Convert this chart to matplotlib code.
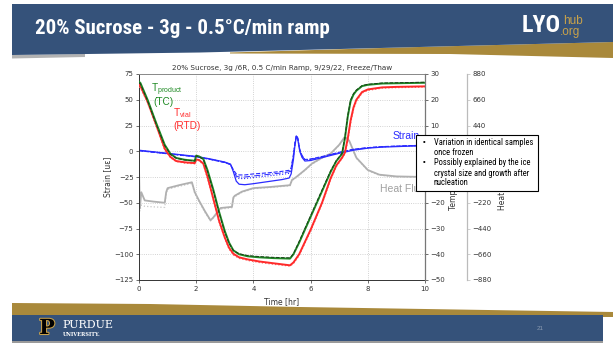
import matplotlib
matplotlib.use('Agg')
import matplotlib.pyplot as plt
from matplotlib import font_manager
from matplotlib.patches import Rectangle, Polygon
import matplotlib.patheffects as pe

names = {f.name for f in font_manager.fontManager.ttflist}


def pick(cands, default='DejaVu Sans'):
    for c in cands:
        if c in names:
            return c
    return default


NARROW = pick(['Roboto Condensed', 'Open Sans Condensed', 'Liberation Sans Narrow', 'DejaVu Sans Condensed',
               'Noto Sans Condensed', 'Roboto'])
SANS = pick(['Liberation Sans'])
BOXF = pick(['Roboto Condensed', 'Liberation Sans Narrow', 'Roboto'])
plt.rcParams['mathtext.fontset'] = 'custom'
plt.rcParams['mathtext.rm'] = SANS

# ---------------- data ----------------
slide_title = '20% Sucrose - 3g - 0.5°C/min ramp'
chart_title = '20% Sucrose, 3g /6R, 0.5 C/min Ramp, 9/29/22, Freeze/Thaw'

t_temp = [0, 0.05, 0.3, 0.6, 0.9, 1.1, 1.3, 1.6, 1.95, 2.0, 2.1, 2.25, 2.4, 2.6, 2.8,
          3.0, 3.15, 3.3, 3.5, 3.8, 4.2, 4.7, 5.28, 5.4, 5.6, 6.0, 6.4, 6.7, 6.9, 7.1,
          7.2, 7.3, 7.4, 7.5, 7.6, 7.8, 8.0, 8.5, 9.0, 10.0]
T_product_1 = [27.0, 26.5, 20.0, 11.0, 2.5, -1.0, -2.6, -3.3, -3.7, -1.7, -2.0, -3.0, -7.5, -15.0, -23.5,
               -31.0, -35.5, -38.5, -40.0, -40.8, -41.2, -41.5, -41.7, -40.0, -35.5, -25.5, -15.5, -8.0, -3.8, -1.0,
               5.0, 13.5, 19.5, 22.0, 23.5, 25.3, 25.8, 26.3, 26.4, 26.6]
T_product_2 = [26.6, 26.2, 19.6, 10.6, 2.2, -1.2, -2.7, -3.4, -3.8, -1.8, -2.1, -3.2, -8.0, -15.5, -24.0,
               -31.5, -35.8, -38.6, -39.8, -40.5, -40.9, -41.2, -41.4, -39.8, -35.0, -25.0, -15.0, -7.6, -3.6, -0.8,
               5.5, 14.0, 20.0, 22.4, 23.8, 25.5, 26.0, 26.5, 26.6, 26.8]
T_vial_1 = [25.8, 25.3, 19.3, 10.3, 1.0, -2.2, -3.8, -4.3, -4.6, -3.2, -3.4, -4.8, -10.0, -18.5, -27.0,
            -33.5, -37.5, -39.8, -41.2, -42.0, -42.8, -43.5, -44.3, -43.2, -40.0, -30.5, -20.0, -10.5, -5.5, -2.5,
            -0.5, 5.0, 12.0, 17.0, 20.0, 23.0, 24.0, 24.8, 25.0, 25.2]
T_vial_2 = [25.0, 24.6, 18.8, 9.8, 0.5, -2.5, -4.0, -4.6, -4.9, -3.5, -3.7, -5.2, -10.8, -19.0, -27.5,
            -34.0, -38.0, -40.3, -41.6, -42.4, -43.2, -43.9, -44.6, -43.6, -40.5, -31.0, -20.5, -11.0, -6.0, -2.8,
            -1.0, 4.0, 11.0, 16.2, 19.4, 22.6, 23.6, 24.5, 24.7, 24.9]

t_strain = [0, 0.5, 1.0, 1.5, 2.0, 2.5, 3.0, 3.2, 3.3, 3.4, 3.5, 3.7, 4.0, 4.5, 5.0, 5.25, 5.32,
            5.4, 5.45, 5.5, 5.55, 5.62, 5.7, 5.8, 6.0, 6.5, 7.0, 7.5, 8.0, 8.5, 9.0, 9.5, 10.0]
strain_1 = [1.0, -0.5, -2.0, -3.5, -5.0, -7.5, -10.5, -12.5, -20.0, -29.0, -32.0, -32.5, -31.5, -29.5, -27.5, -26.0, -22.0,
            -8.0, 5.0, 14.0, 12.0, 0.0, -6.0, -9.5, -9.0, -5.5, -2.0, 1.0, 3.0, 4.0, 4.5, 5.0, 5.2]
strain_2 = [0.5, -1.0, -2.5, -4.0, -5.5, -8.0, -11.0, -13.0, -18.0, -22.0, -23.0, -23.0, -22.0, -21.0, -19.5, -18.5, -16.0,
            -3.0, 8.0, 15.5, 13.0, 2.0, -4.0, -8.0, -7.5, -4.5, -1.0, 2.0, 3.5, 4.5, 5.0, 5.5, 5.8]
strain_3 = [0.8, -0.8, -2.2, -3.8, -5.2, -7.7, -10.7, -12.8, -19.0, -25.0, -26.5, -26.5, -25.5, -24.0, -22.5, -21.5, -18.5,
            -5.0, 6.5, 15.0, 12.5, 1.0, -5.0, -8.5, -8.0, -5.0, -1.5, 1.5, 3.3, 4.3, 4.8, 5.3, 5.5]
strain_4 = [0.6, -0.9, -2.4, -3.9, -5.4, -7.9, -10.9, -12.9, -18.5, -24.0, -25.0, -25.0, -24.0, -22.5, -21.0, -20.0, -17.5,
            -4.0, 7.0, 15.0, 12.8, 1.5, -4.5, -8.2, -7.8, -4.8, -1.2, 1.8, 3.4, 4.4, 4.9, 5.4, 5.7]

t_heat = [0, 0.01, 0.03, 0.08, 0.2, 0.5, 0.9, 0.95, 1.0, 1.4, 1.85, 1.95, 2.1, 2.3, 2.5, 2.6, 2.85, 3.25, 3.3,
          3.35, 3.6, 4.0, 4.6, 5.28, 5.35, 5.5, 5.8, 6.05, 6.4, 6.7, 7.0, 7.2, 7.35, 7.6, 8.0, 8.4, 9.0, 10.0]
heat_1 = [80, -45, -265, -130, -200, -210, -220, -130, -95, -70, -45, -130, -202, -290, -370, -345, -265, -255, -175,
          -160, -125, -95, -85, -70, -25, 0, 60, 115, 165, 200, 275, 345, 310, 165, 60, 20, 5, 0]
heat_2 = [60, -80, -290, -240, -250, -255, -260, -140, -105, -80, -55, -140, -212, -300, -375, -350, -275, -262, -185,
          -168, -132, -100, -90, -75, -30, -5, 55, 110, 160, 195, 270, 338, 305, 160, 55, 15, 0, -5]

x_ticks = [0, 2, 4, 6, 8, 10]
strain_ticks = [-125, -100, -75, -50, -25, 0, 25, 50, 75]
temp_ticks = [-50, -40, -30, -20, -10, 0, 10, 20, 30]
temp_labels = ['−50', '−40', '−30', '−20', '', '', '10', '20', '30']
heat_ticks = [-880, -660, -440, -220, 0, 220, 440, 660, 880]
heat_labels = ['−880', '−660', '−440', '−220', '', '', '440', '660', '880']
box_lines = ['Variation in identical samples', 'once frozen', 'Possibly explained by the ice',
             'crystal size and growth after', 'nucleation']
box_bullet = [True, False, True, False, False]

# ---------------- figure ----------------
W, H = 613, 344
fig = plt.figure(figsize=(W / 100, H / 100), dpi=100)
fig.patch.set_facecolor('white')
renderer = fig.canvas.get_renderer()


def P(x, y):
    return (x / W, 1 - y / H)


def poly(pts, **kw):
    fig.add_artist(Polygon([P(*p) for p in pts], closed=True, transform=fig.transFigure, **kw))


def fit_width(txt, target_px):
    bb = txt.get_window_extent(renderer)
    txt.set_fontsize(txt.get_fontsize() * target_px / bb.width)


HDR = '#35527a'
GOLD = '#a9893b'

# header
poly([(230, 52.5), (400, 47.5), (613, 42), (613, 58), (450, 54), (230, 53.5)], facecolor=GOLD, edgecolor='none', zorder=1)
poly([(12, 4), (613, 4), (613, 42), (400, 47.5), (200, 52.5), (12, 55)], facecolor=HDR, edgecolor='none', zorder=2)
poly([(12, 55), (85, 54), (85, 57), (12, 58.5)], facecolor='#7f7f7f', edgecolor='none', alpha=0.6, zorder=1)
tt = fig.text(*P(35, 28), slide_title, color='white', fontsize=15, fontweight='bold', family=NARROW,
              va='center', ha='left', zorder=3)
fit_width(tt, 295)
lyo = fig.text(*P(522, 26), 'LYO', color='white', fontsize=18, fontweight='bold', family=NARROW,
               va='center', ha='left', zorder=3)
fit_width(lyo, 39)
fig.text(*P(563, 20.5), 'hub', color='#c9a24a', fontsize=8.5, family=SANS, va='center', ha='left', zorder=3)
fig.text(*P(560, 32), '.org', color='#c9a24a', fontsize=8.5, family=SANS, va='center', ha='left', zorder=3)

# footer
poly([(12, 303), (150, 304), (300, 307), (613, 312), (613, 317), (12, 317)], facecolor=GOLD, edgecolor='none', zorder=1)
poly([(12, 315), (603, 315), (603, 341), (12, 341)], facecolor=HDR, edgecolor='none', zorder=2)
poly([(12, 341), (603, 341), (603, 343), (12, 343)], facecolor='#9a9a9a', edgecolor='none', zorder=1)
fig.text(*P(47, 328), 'P', color='black', fontsize=15, fontweight='bold', family='DejaVu Serif',
         va='center', ha='center', zorder=3,
         path_effects=[pe.withStroke(linewidth=1.5, foreground='#c9a24a')])
fig.text(*P(62, 325), 'PURDUE', color='white', fontsize=8, family='DejaVu Serif', va='center', ha='left', zorder=3)
fig.text(*P(63, 334), 'UNIVERSITY.', color='white', fontsize=3.6, family='DejaVu Serif', fontweight='bold',
         va='center', ha='left', zorder=3)
fig.text(*P(540, 328), '21', color='#8a9ab0', fontsize=4.5, family=SANS, va='center', ha='center', zorder=3)

# ---------------- chart ----------------
x0, x1, y0, y1 = 139, 425, 74, 280
ax = fig.add_axes([x0 / W, 1 - y1 / H, (x1 - x0) / W, (y1 - y0) / H])
ax2 = ax.twinx()
ax3 = ax.twinx()
ax3.set_zorder(1)
ax.set_zorder(2)
ax2.set_zorder(3)
ax.patch.set_visible(False)
ax2.patch.set_visible(False)
ax3.patch.set_facecolor('white')

GREEN = '#1f8a24'
RED = '#ff2a2a'
BLUE = '#2b2bff'
GRAY = '#b0b0b0'

ax3.plot(t_heat, heat_2, color='#c8c8c8', lw=0.9, ls=':')
ax3.plot(t_heat, heat_1, color=GRAY, lw=1.3)

ax.plot(t_strain, strain_2, color=BLUE, lw=0.8, ls='--')
ax.plot(t_strain, strain_3, color=BLUE, lw=0.8, ls=':')
ax.plot(t_strain, strain_4, color=BLUE, lw=0.7, ls='-.')
ax.plot(t_strain, strain_1, color=BLUE, lw=0.9)

ax2.plot(t_temp, T_vial_2, color='#ff7070', lw=0.9, ls=':')
ax2.plot(t_temp, T_vial_1, color=RED, lw=1.4)
ax2.plot(t_temp, T_product_1, color=GREEN, lw=1.4)
ax2.plot(t_temp, T_product_2, color='#1a3d1a', lw=0.7, ls='--')

ax.set_xlim(0, 10)
ax.set_ylim(-125, 75)
ax2.set_ylim(-50, 30)
ax3.set_ylim(-880, 880)
ax.set_xticks(x_ticks)
ax.set_yticks(strain_ticks)
ax2.set_yticks(temp_ticks)
ax2.set_yticklabels(temp_labels)
ax3.set_yticks(heat_ticks)
ax3.set_yticklabels(heat_labels)
ax.grid(True, ls=':', color='#c4c4c4', lw=0.6)

for a in (ax, ax2, ax3):
    a.tick_params(labelsize=5, length=2.5, width=0.5, pad=1.5, colors='#333333')
for s in ax.spines.values():
    s.set_linewidth(0.7)
    s.set_color('#333333')
ax.spines['top'].set_color('#888888')
for s in ax2.spines.values():
    s.set_visible(False)
ax2.spines['right'].set_visible(True)
ax2.spines['right'].set_color('#777777')
ax2.spines['right'].set_linewidth(0.9)
for s in ax3.spines.values():
    s.set_visible(False)
ax3.spines['right'].set_visible(True)
ax3.spines['right'].set_position(('axes', (467 - x0) / (x1 - x0)))
ax3.spines['right'].set_color('#bbbbbb')
ax3.spines['right'].set_linewidth(0.9)
ax3.tick_params(axis='y', colors='#bbbbbb', labelcolor='#333333')

ax.set_xlabel('Time [hr]', fontsize=5.5, color='#333333')
ax.xaxis.set_label_coords(0.5, (y1 - 297) / (y1 - y0))
ax.set_ylabel('Strain [uε]', fontsize=5.5, color='#333333')
ax.yaxis.set_label_coords((112 - x0) / (x1 - x0), 0.5)
ax2.set_ylabel('Temperature [°C]', fontsize=5.5, color='#333333')
ax2.yaxis.set_label_coords((449 - x0) / (x1 - x0), 0.5)
ax3.set_ylabel('Heat Flux [W/m²]', fontsize=5.5, color='#333333')
ax3.yaxis.set_label_coords((497 - x0) / (x1 - x0), 0.5)
ax.text(0.5, 1 + (y0 - 68) / (y1 - y0), chart_title, transform=ax.transAxes, fontsize=5.2,
        ha='center', va='center', color='#333333')

# annotations
ax.text(0.42, 60, r'T$_{\mathrm{product}}$', color=GREEN, fontsize=7.2, family=SANS, va='center', ha='left')
ax.text(0.87, 47.5, '(TC)', color=GREEN, fontsize=7.2, family=SANS, va='center', ha='center')
ax.text(1.19, 37, r'T$_{\mathrm{vial}}$', color=RED, fontsize=7.2, family=SANS, va='center', ha='left')
ax.text(1.68, 24.5, '(RTD)', color=RED, fontsize=7.2, family=SANS, va='center', ha='center')
ax.text(8.85, 14.5, 'Strain', color=BLUE, fontsize=7.5, family=SANS, va='center', ha='left')
ax.text(8.43, -37, 'Heat Flux', color='#a0a0a0', fontsize=7.5, family=SANS, va='center', ha='left')

# text box
bx0, bx1, by0, by1 = 416, 538, 135, 191
fig.add_artist(Rectangle(P(bx0, by1), (bx1 - bx0) / W, (by1 - by0) / H, transform=fig.transFigure,
                         facecolor='white', edgecolor='black', lw=0.8, zorder=10))
probe = fig.text(0, 0, box_lines[0], fontsize=6, family=BOXF)
fit_width(probe, 100)
bsize = probe.get_fontsize()
probe.remove()
line_y = [142, 152.5, 163, 173, 183]
for yy, txt, has_b in zip(line_y, box_lines, box_bullet):
    if has_b:
        fig.text(*P(423, yy), '•', fontsize=5.5, family=SANS, va='center', ha='left', zorder=11)
    fig.text(*P(434, yy), txt, fontsize=bsize, family=BOXF, va='center', ha='left', zorder=11)

fig.savefig('out.png', dpi=100, facecolor='white')
